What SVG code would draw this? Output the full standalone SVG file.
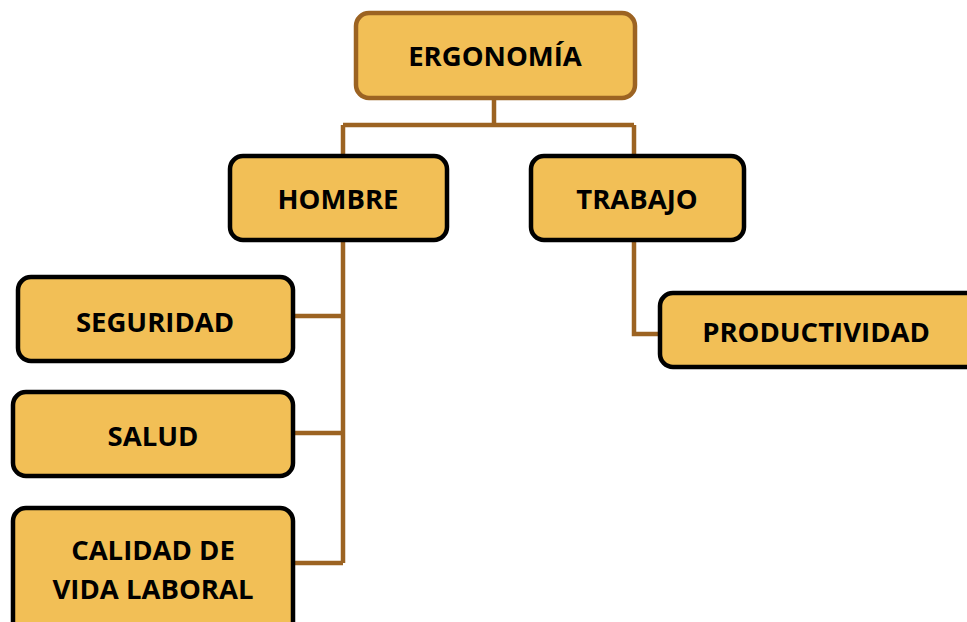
<svg xmlns="http://www.w3.org/2000/svg" width="967" height="622" viewBox="0 0 967 622">
<style>
.box{fill:#F2BF56;stroke:#000;stroke-width:4.5}
.top{fill:#F2BF56;stroke:#9C6322;stroke-width:4.5}
.lbl{font-family:"Open Sans","Liberation Sans",sans-serif;font-weight:bold;font-size:27.5px;fill:#000;text-anchor:middle}
.con{fill:none;stroke:#9C6322;stroke-width:4.5}
</style>
<rect width="967" height="622" fill="#fff"/>
<g id="connectors">
<path class="con" d="M494 98V125M343 125H634M343 125V155M634 125V155"/>
<path class="con" d="M343 240V563M293 316H343M293 433H343M293 563H343"/>
<path class="con" d="M634 240V334H659"/>
</g>
<g id="ergonomia">
<rect class="top" x="356" y="13" width="279" height="85" rx="13"/>
<text class="lbl" x="495" y="66">ERGONOMÍA</text>
</g>
<g id="hombre">
<rect class="box" x="230" y="156" width="217" height="84" rx="13"/>
<text class="lbl" x="338" y="209">HOMBRE</text>
</g>
<g id="trabajo">
<rect class="box" x="531" y="156" width="213" height="84" rx="13"/>
<text class="lbl" x="637" y="209">TRABAJO</text>
</g>
<g id="seguridad">
<rect class="box" x="18" y="277" width="275" height="84" rx="13"/>
<text class="lbl" x="155" y="332">SEGURIDAD</text>
</g>
<g id="salud">
<rect class="box" x="13" y="392" width="280" height="84" rx="13"/>
<text class="lbl" x="153" y="446">SALUD</text>
</g>
<g id="calidad">
<rect class="box" x="13" y="508" width="280" height="130" rx="13"/>
<text class="lbl" x="153" y="560">CALIDAD DE</text>
<text class="lbl" x="153" y="599">VIDA LABORAL</text>
</g>
<g id="productividad">
<rect class="box" x="660" y="293" width="320" height="74" rx="13"/>
<text class="lbl" x="816" y="342">PRODUCTIVIDAD</text>
</g>
</svg>
